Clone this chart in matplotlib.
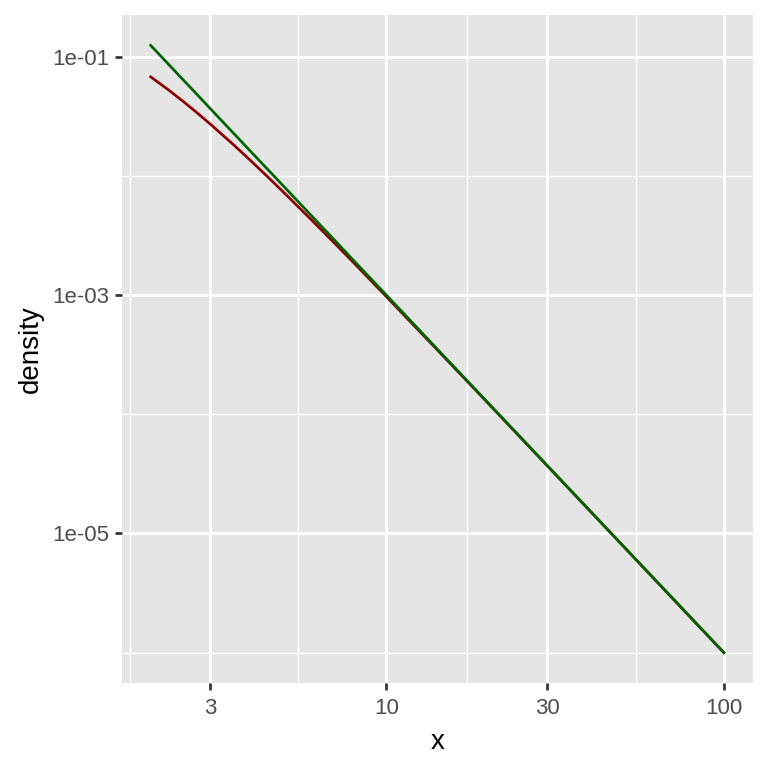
import numpy as np
import matplotlib
matplotlib.use("Agg")
import matplotlib.pyplot as plt
from matplotlib.ticker import FixedLocator, NullFormatter

plt.rcParams['font.family'] = ['Liberation Sans', 'DejaVu Sans']

# values (log-log density curves)
x_vals = [2, 2.25, 2.5, 2.75, 3, 3.5, 4, 4.5, 5, 6, 7, 8, 10, 15, 20, 30, 50, 70, 100]
red_density = [0.068, 0.0533, 0.0422, 0.0338, 0.0274, 0.0186, 0.0131, 0.00953, 0.00713,
               0.00427, 0.00275, 0.00187, 0.00097, 0.000292, 0.000124, 3.69e-5,
               7.99e-6, 2.91e-6, 1.0e-6]
green_density = [0.125, 0.0878, 0.064, 0.0481, 0.037, 0.0233, 0.0156, 0.01097, 0.008,
                 0.00463, 0.00292, 0.00195, 0.001, 0.000296, 0.000125, 3.7e-5,
                 8e-6, 2.92e-6, 1e-6]

x_ticks = [3, 10, 30, 100]
x_labels = ['3', '10', '30', '100']
x_minor = [np.sqrt(3), np.sqrt(30), np.sqrt(300), np.sqrt(3000)]
y_ticks = [1e-1, 1e-3, 1e-5]
y_labels = ['1e-01', '1e-03', '1e-05']
y_minor = [1e-2, 1e-4, 1e-6]

dpi = 182
fig = plt.figure(figsize=(768 / dpi, 768 / dpi), dpi=dpi)
ax = fig.add_axes([122 / 768, 1 - 683 / 768, (752.5 - 122) / 768, (683 - 15) / 768])
ax.set_facecolor('#E5E5E5')

ax.plot(x_vals, red_density, color='#8B0000', lw=1.07, zorder=3)
ax.plot(x_vals, green_density, color='#006400', lw=1.07, zorder=4)

ax.set_xscale('log')
ax.set_yscale('log')

# ggplot-like 5% expansion in log space
lx0, lx1 = np.log10(min(x_vals)), np.log10(max(x_vals))
ly0 = np.log10(min(min(red_density), min(green_density)))
ly1 = np.log10(max(max(red_density), max(green_density)))
ex, ey = 0.05 * (lx1 - lx0), 0.05 * (ly1 - ly0)
ax.set_xlim(10 ** (lx0 - ex), 10 ** (lx1 + ex))
ax.set_ylim(10 ** (ly0 - ey), 10 ** (ly1 + ey))

ax.xaxis.set_major_locator(FixedLocator(x_ticks))
ax.xaxis.set_minor_locator(FixedLocator(x_minor))
ax.yaxis.set_major_locator(FixedLocator(y_ticks))
ax.yaxis.set_minor_locator(FixedLocator(y_minor))
ax.set_xticklabels(x_labels)
ax.set_yticklabels(y_labels)
ax.xaxis.set_minor_formatter(NullFormatter())
ax.yaxis.set_minor_formatter(NullFormatter())

ax.grid(True, which='major', color='white', lw=1.07)
ax.grid(True, which='minor', color='white', lw=0.53)
ax.set_axisbelow(True)
for s in ax.spines.values():
    s.set_visible(False)

ax.tick_params(which='major', length=2.75, width=1.07, color='#333333',
               labelsize=8.8, labelcolor='#4D4D4D', pad=2.2)
ax.tick_params(axis='x', which='major', pad=3.2)
ax.tick_params(which='minor', length=0)

ax.set_xlabel('x', fontsize=11, labelpad=4)
ax.set_ylabel('density', fontsize=11, labelpad=3.5)

fig.savefig('out.png', dpi=dpi)
